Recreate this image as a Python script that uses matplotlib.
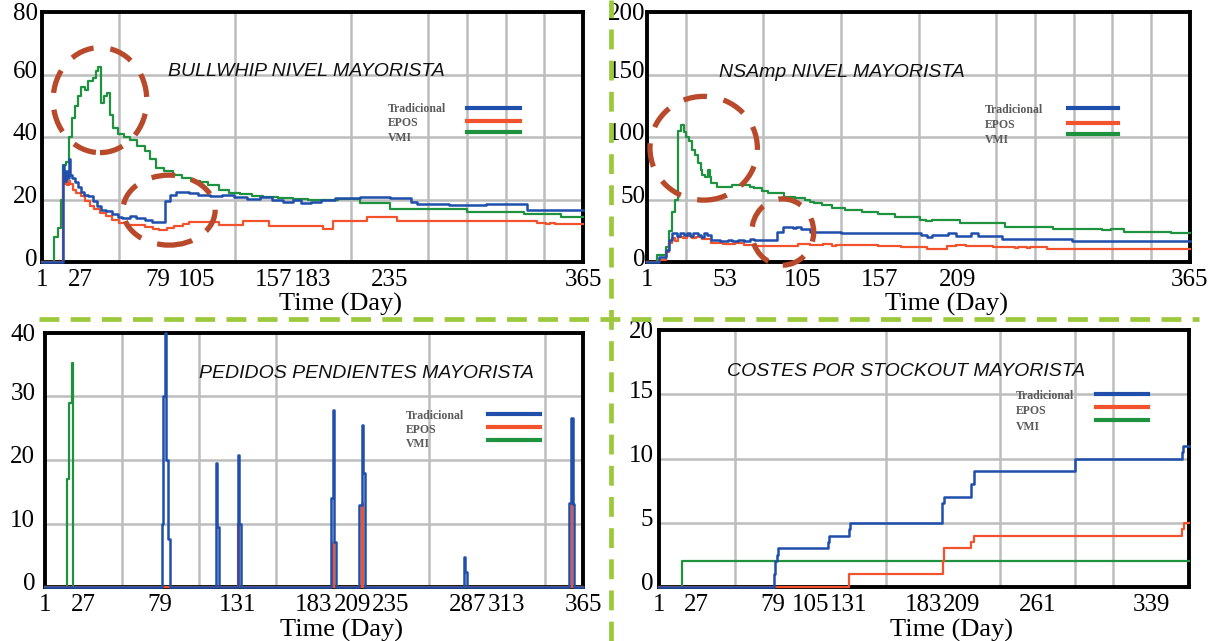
"""Four Vensim-style panels: bullwhip, NSAmp, backorders and stockout costs (mayorista)."""
import matplotlib
matplotlib.use("Agg")
import matplotlib.pyplot as plt
import matplotlib.transforms as mtransforms
from matplotlib.lines import Line2D
from matplotlib.patches import Ellipse
import numpy as np

plt.rcParams["font.family"] = ["Liberation Serif", "DejaVu Serif"]

SERIES = ["Tradicional", "EPOS", "VMI"]
COLORS = {"Tradicional": "#1f4fab", "EPOS": "#f2532c", "VMI": "#1f923f"}

# ---------- BULLWHIP NIVEL MAYORISTA ----------
bw_trad = [(1, 0), (15, 31), (16, 26), (17, 29), (18, 27), (19, 33), (20, 28), (21, 27), (23, 25.5),
           (25, 24), (27, 22.5), (29, 21.5), (32, 21), (35, 19.5), (38, 18), (41, 16.8), (44, 16.2),
           (48, 15.5), (52, 14.5), (55, 14.2), (60, 14.8), (64, 14.2), (70, 13.6), (75, 12.8),
           (84, 19.5), (87, 21.5), (91, 22.4), (100, 22), (106, 21.4), (114, 21.0), (122, 21.3),
           (130, 20.8), (139, 20.3), (148, 20.8), (156, 20), (163, 19.2), (170, 19.8), (175, 18.8),
           (182, 19.2), (189, 20.0), (198, 20.5), (215, 20.8), (235, 20.4), (249, 19.3), (253, 18.6),
           (275, 18.4), (300, 18.6), (327, 16.6), (365, 16.6)]
bw_epos = [(1, 0), (15, 28), (16, 25), (17, 27), (18, 24.5), (19, 26), (20, 25), (22, 23), (24, 22),
           (27, 21), (30, 19.5), (33, 18), (36, 17), (40, 15.8), (44, 14.6), (48, 13.5), (53, 12.5),
           (58, 12), (64, 11.8), (70, 11.2), (76, 10.5), (80, 10.2), (85, 11), (90, 11.4), (96, 12.2),
           (100, 12.8), (116, 12.8), (120, 11.8), (130, 12), (136, 13), (150, 13), (154, 11.6),
           (189, 11.6), (190, 10.5), (197, 13.2), (220, 14.3), (233, 14.3), (240, 13.2), (334, 12.5),
           (340, 12.2), (343, 12.6), (346, 12.2), (365, 12.2)]
bw_vmi = [(1, 0), (9, 8), (12, 11), (14, 20), (15, 31), (17, 32), (19, 40), (21, 46), (23, 50),
          (25, 53), (27, 56), (30, 55), (32, 58), (35, 59), (37, 61), (39, 62.5), (41, 51), (43, 53),
          (45, 54), (47, 47), (49, 43), (52, 41), (56, 40), (60, 39), (65, 37), (70, 35.5), (74, 33),
          (78, 30), (83, 29), (89, 28), (95, 27), (101, 26), (107, 25.5), (113, 24.5), (120, 23),
          (127, 22), (134, 21.8), (142, 21.2), (150, 20.8), (160, 20.4), (170, 20.2), (180, 19.8),
          (190, 20), (200, 20.3), (215, 19), (235, 17), (287, 16), (325, 15.4), (350, 14.5), (365, 14.5)]

# ---------- NSAmp NIVEL MAYORISTA ----------
ns_trad = [(1, 0), (9, 4), (14, 10), (16, 18), (18, 23), (21, 21), (23, 23), (26, 22), (28, 23.5),
           (30, 21), (32, 23), (35, 22), (37, 20), (39, 23), (41, 22), (44, 17.6), (50, 17.2),
           (55, 18), (58, 16.8), (62, 17.6), (66, 17.2), (70, 18.4), (73, 17.6), (88, 24), (92, 28),
           (99, 27), (101, 28), (104, 26.4), (110, 24.3), (131, 23), (185, 21.6), (189, 20.0),
           (192, 22), (203, 23), (208, 20.8), (218, 23.5), (223, 20.8), (239, 18.7), (286, 17), (365, 17)]
ns_epos = [(1, 0), (9, 2), (14, 8), (16, 15), (18, 19), (20, 17), (22, 20), (25, 19), (28, 20.5),
           (31, 19), (34, 20), (38, 18.5), (44, 15), (52, 14.4), (60, 15.2), (66, 14), (73, 13),
           (85, 12.6), (96, 13), (102, 14.4), (110, 13.8), (119, 14.4), (125, 12.8), (128, 14),
           (134, 13.6), (156, 13), (171, 12.3), (189, 10.4), (202, 12.5), (208, 13.5), (215, 12.5),
           (233, 12.3), (248, 11.5), (250, 12.3), (256, 11), (258, 12.3), (269, 10.4), (365, 10.4)]
ns_vmi = [(1, 0), (8, 5.6), (12, 6), (14, 12), (16, 25), (18, 40), (20, 50), (22, 105), (24, 110),
          (26, 104), (27, 100), (29, 97), (31, 90), (33, 86), (35, 79), (37, 74), (38, 70), (40, 68),
          (42, 74), (43, 68), (44, 63), (48, 60), (58, 61.6), (64, 62), (70, 60), (73, 59), (78, 57),
          (82, 55), (93, 52.4), (100, 51), (107, 50), (110, 48), (113, 47), (118, 46), (125, 43),
          (134, 41.6), (145, 40), (156, 38.4), (167, 36), (184, 33.6), (188, 32.5), (192, 34),
          (196, 33.6), (211, 31.5), (241, 28.3), (273, 26.4), (306, 25.5), (312, 26.4), (321, 24.3),
          (352, 23), (365, 23)]

# ---------- PEDIDOS PENDIENTES MAYORISTA ----------
pp_trad = [(1, 0), (80, 10), (81, 30), (82.5, 40), (83, 20), (84.5, 7.5), (85.5, 0),
           (116.5, 19.5), (117.5, 9.5), (118.5, 0), (131.4, 20.8), (132.5, 10), (133.8, 0),
           (194.5, 14), (195.6, 27.9), (196.7, 7.1), (197.8, 0), (213.4, 12.9), (215.2, 25.5),
           (216.3, 18), (217.2, 0), (284.5, 4.7), (285.5, 2.3), (286.5, 0), (355.6, 13.2),
           (357, 26.6), (358, 13), (359, 0), (365, 0)]
pp_epos = [(1, 0), (131.8, 10), (132.2, 8), (132.4, 0), (195.95, 7), (196.3, 1.8), (196.45, 0),
           (215.6, 13), (215.9, 11.4), (216.0, 0), (357.3, 13), (357.6, 10.3), (357.8, 0), (365, 0)]
pp_vmi = [(1, 0), (15.7, 17), (17.5, 29), (19, 35.3), (20, 0), (365, 0)]

# ---------- COSTES POR STOCKOUT MAYORISTA ----------
cs_trad = [(1, 0), (80, 1), (81, 2), (82, 2.5), (83, 3), (117, 3.5), (118, 4), (131.5, 4.5),
           (132.5, 5), (195.5, 6.5), (196.5, 7), (215, 8), (217, 9), (286.5, 10), (360, 10.5),
           (361, 11), (365, 11)]
cs_epos = [(1, 0), (131.8, 1), (195.8, 2), (196.8, 3), (215.5, 3.5), (217.5, 4), (360, 4.5),
           (361.5, 5), (365, 5)]
cs_vmi = [(1, 0), (16.5, 2), (365, 2)]

panels = [
    dict(title="BULLWHIP NIVEL MAYORISTA", data=[bw_trad, bw_epos, bw_vmi],
         yticks=[0, 20, 40, 60, 80], xticks=[1, 27, 79, 105, 157, 183, 235, 365],
         rect=[42, 12, 583, 262], title_xy=(0.488, 0.764), ypad=3,
         leg=(0.64, 0.786, 0.884, [0.616, 0.564, 0.52], [0.612, 0.556, 0.496]),
         rings=[((40, 51.8), 63, 33.6), ((86.5, 16.6), 62, 22.4)]),
    dict(title="NSAmp NIVEL MAYORISTA", data=[ns_trad, ns_epos, ns_vmi],
         yticks=[0, 50, 100, 150, 200], xticks=[1, 53, 105, 157, 209, 365],
         rect=[647, 12, 1190, 262], title_xy=(0.359, 0.757), ypad=1,
         leg=(0.622, 0.776, 0.868, [0.616, 0.556, 0.514], [0.608, 0.548, 0.488]),
         rings=[((39, 91), 72, 83), ((92, 24), 41.5, 53)]),
    dict(title="PEDIDOS PENDIENTES MAYORISTA", data=[pp_trad, pp_epos, pp_vmi],
         yticks=[0, 10, 20, 30, 40], xticks=[1, 27, 79, 131, 183, 209, 235, 287, 313, 365],
         rect=[45, 333, 583, 587], title_xy=(0.597, 0.84), ypad=7,
         leg=(0.671, 0.823, 0.920, [0.683, 0.630, 0.580], [0.673, 0.618, 0.563]),
         rings=[]),
    dict(title="COSTES POR STOCKOUT MAYORISTA", data=[cs_trad, cs_epos, cs_vmi],
         yticks=[0, 5, 10, 15, 20], xticks=[1, 27, 79, 105, 131, 183, 209, 261, 339],
         rect=[659, 330, 1189, 587], title_xy=(0.466, 0.838), ypad=4,
         leg=(0.674, 0.825, 0.923, [0.751, 0.699, 0.650], [0.743, 0.686, 0.624]),
         rings=[]),
]

W, H = 1223, 641
fig = plt.figure(figsize=(W / 100, H / 100), dpi=100)
lift = mtransforms.ScaledTranslation(0, 5 / 100, fig.dpi_scale_trans)  # lower labels sit a bit high

for p in panels:
    x0, y0, x1, y1 = p["rect"]
    ax = fig.add_axes([x0 / W, 1 - y1 / H, (x1 - x0) / W, (y1 - y0) / H])
    # VMI first, Tradicional on top (as in the original)
    for name, pts, z in zip(SERIES, p["data"], [5, 4, 3]):
        d = np.array(pts)
        ax.plot(d[:, 0], d[:, 1], drawstyle="steps-post", color=COLORS[name],
                lw=1.8 if name == "Tradicional" else 1.6, zorder=z, clip_on=False)
    ax.set_xlim(1, 365)
    ax.set_ylim(p["yticks"][0], p["yticks"][-1])
    ax.set_xticks(p["xticks"])
    ax.set_xticks(np.arange(1, 366, 26), minor=True)
    ax.set_yticks(p["yticks"])
    ax.grid(which="minor", axis="x", color="#bdbdbd", lw=1.8)
    ax.grid(which="major", axis="y", color="#bdbdbd", lw=1.8)
    ax.set_axisbelow(True)
    ax.tick_params(which="both", length=0, labelsize=18)
    ax.tick_params(axis="y", pad=p["ypad"])
    ax.tick_params(axis="x", pad=5)
    for lab in ax.get_yticklabels()[:-1]:
        lab.set_transform(lab.get_transform() + lift)
    for s in ax.spines.values():
        s.set_linewidth(2.8)
    ax.set_xlabel("Time (Day)", fontsize=19)
    ax.xaxis.set_label_coords(0.552, -0.125)

    ax.text(*p["title_xy"], p["title"], transform=ax.transAxes, ha="center", va="center",
            fontsize=14, style="italic", family="Liberation Sans", color="#111111")

    tx, lx0, lx1, ly, ty = p["leg"]
    for name, yl, yt in zip(SERIES, ly, ty):
        ax.add_line(Line2D([lx0, lx1], [yl, yl], transform=ax.transAxes, color=COLORS[name],
                           lw=3, zorder=6))
        ax.text(tx, yt, name, transform=ax.transAxes, ha="left", va="center", fontsize=8.5,
                fontweight="bold", color="#5a5a5a", zorder=6)

    for (cx, cy), w, h in p["rings"]:
        ax.add_patch(Ellipse((cx, cy), w, h, fill=False, ec="#b8492b", lw=3.8,
                             ls=(0, (4.5, 3.2)), zorder=7, clip_on=False))

# green dashed separators
sep = dict(color="#9cc83b", lw=3.4, ls=(0, (4.2, 2.4)), transform=fig.transFigure, zorder=20)
fig.add_artist(Line2D([39 / W, 1199 / W], [1 - 319 / H, 1 - 319 / H], **sep))
fig.add_artist(Line2D([611 / W, 611 / W], [0, 1], **sep))

fig.savefig("out.png", dpi=100)
